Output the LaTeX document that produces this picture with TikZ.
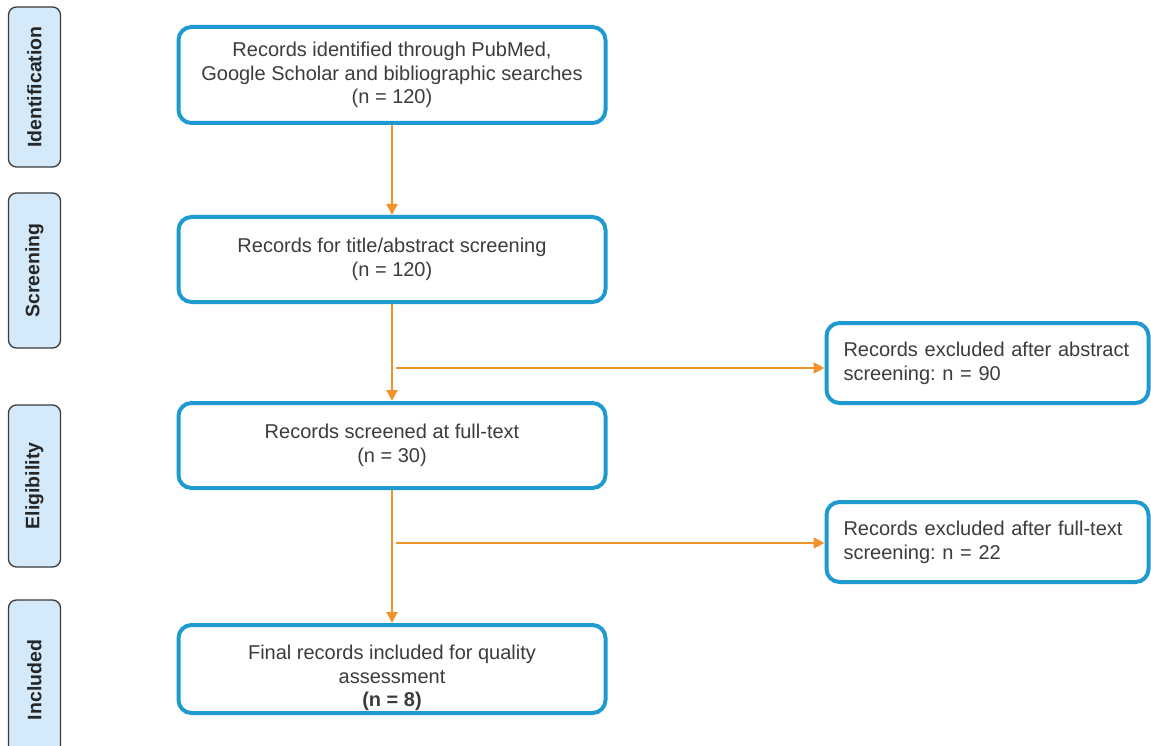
\documentclass[tikz,border=0pt]{standalone}
\usepackage{fontspec}
\setmainfont{Liberation Sans}
\usetikzlibrary{arrows.meta}
\definecolor{boxblue}{HTML}{1E9AD0}
\definecolor{arrorange}{HTML}{F0932B}
\definecolor{txtgray}{HTML}{3C3C3C}
\definecolor{labfill}{HTML}{D4EAFB}
\definecolor{labdraw}{HTML}{3A3A3A}
\tikzset{
  mainbox/.style={draw=boxblue, line width=4pt, rounded corners=13pt, fill=white,
    minimum width=427pt, text=txtgray, align=center,
    font=\fontsize{20}{23.8}\selectfont\frenchspacing},
  sidebox/.style={draw=boxblue, line width=4pt, rounded corners=13pt, fill=white,
    minimum width=322pt, minimum height=78pt, text=txtgray, align=left,
    text width=288pt, font=\fontsize{20}{23.8}\selectfont\frenchspacing},
  phase/.style={draw=labdraw, line width=1.3pt, rounded corners=8pt, fill=labfill,
    rotate=90, minimum height=52pt, text=black!85,
    font=\fontsize{19.5}{22}\selectfont\bfseries},
  arr/.style={draw=arrorange, line width=2pt, -{Triangle[length=11pt,width=11pt]}},
}
\begin{document}
\begin{tikzpicture}[x=1pt,y=-1pt]
\useasboundingbox (0,0) rectangle (1151,746);
% phase labels
\node[phase, minimum width=160pt] (pI) at (34.5,87) {Identification};
\node[phase, minimum width=155pt] (pS) at (34.5,270.5) {Screening};
\node[phase, minimum width=162pt] (pE) at (34.5,486) {Eligibility};
\node[phase, minimum width=160pt] (pN) at (34.5,680) {Included};
% main boxes
\node[mainbox, minimum height=96pt] (b1) at (392,75) {Records identified through PubMed,\\Google Scholar and bibliographic searches\\(n = 120)};
\node[mainbox, minimum height=85pt] (b2) at (392,259.5) {Records for title/abstract screening\\(n = 120)};
\node[mainbox, minimum height=85pt] (b3) at (392,445.5) {Records screened at full-text\\(n = 30)};
\node[mainbox, minimum height=88pt] (b4) at (392,669) {};
\node[text=txtgray, align=center, font=\fontsize{20}{23.8}\selectfont] (t4) at (392,678) {Final records included for quality\\assessment\\\textbf{(n = 8)}};
% exclusion boxes
\node[sidebox, minimum height=80pt] (eA) at (987.5,363) {Records excluded after abstract\\screening: n = 90};
\node[sidebox, minimum height=80pt] (eB) at (987.5,542) {Records excluded after full-text\\screening: n = 22};
% connectors
\coordinate (j1) at (396,368);
\coordinate (j2) at (396,543);
\draw[arr] (b1.south) -- (b2.north);
\draw[arr] (b2.south) -- (b3.north);
\draw[arr] (b3.south) -- (b4.north);
\draw[arr] (j1) -- (eA.west |- j1);
\draw[arr] (j2) -- (eB.west |- j2);
\end{tikzpicture}
\end{document}
